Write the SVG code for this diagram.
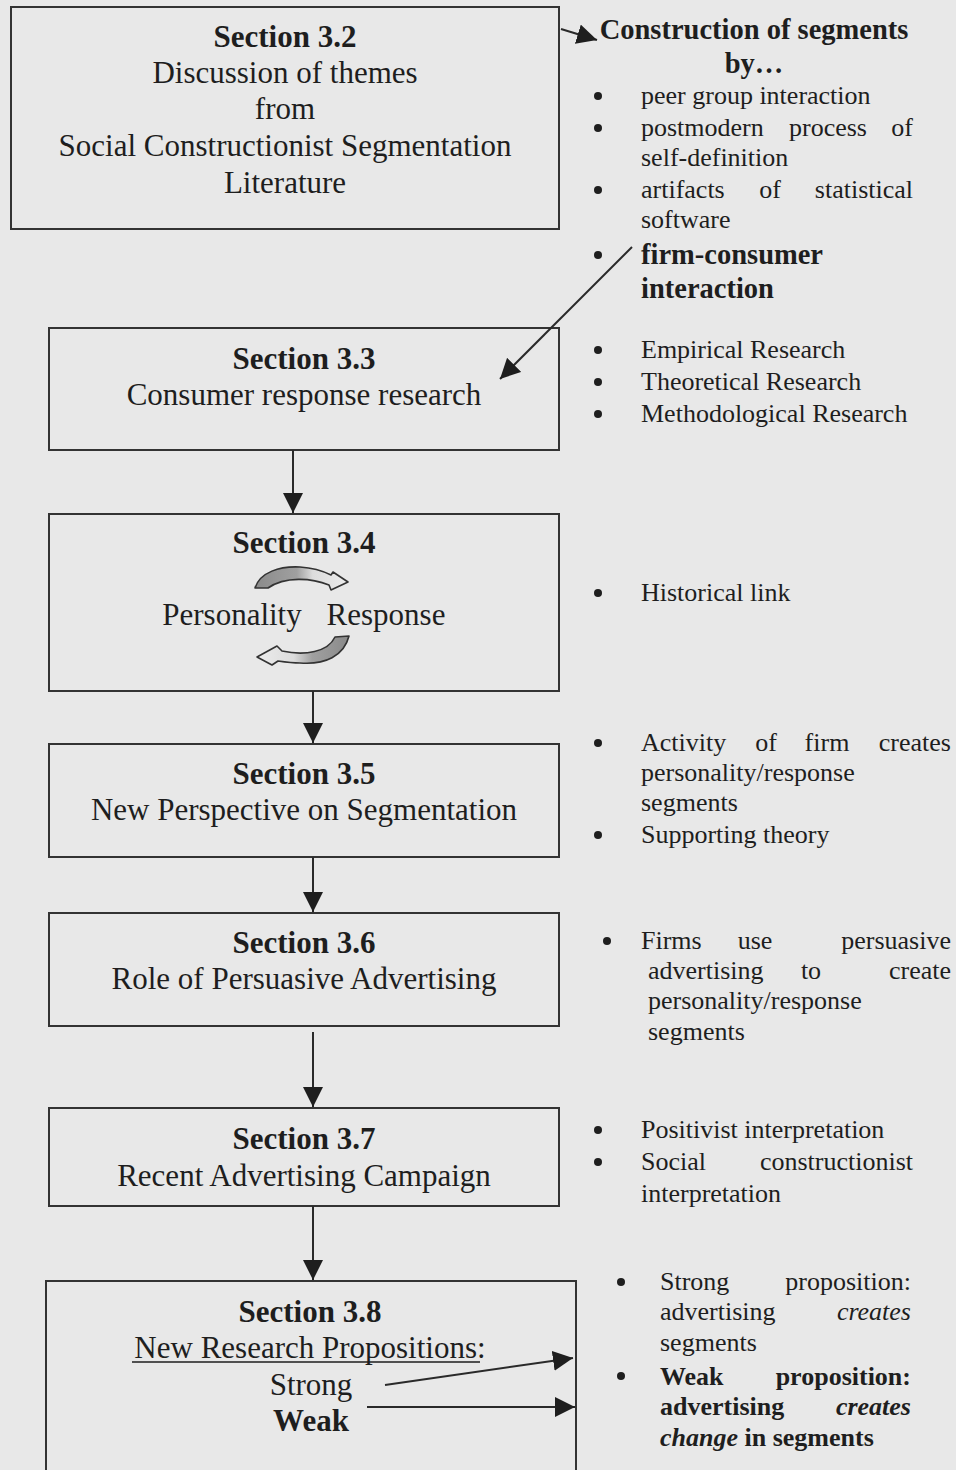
<svg xmlns="http://www.w3.org/2000/svg" width="956" height="1470" viewBox="0 0 956 1470">
  <style>
    text { font-family: "Liberation Serif", "Times New Roman", serif; fill: #1e1e1e; }
    .box { fill: none; stroke: #333; stroke-width: 2; }
    .bt { font-size: 31px; text-anchor: middle; }
    .bh { font-size: 31px; font-weight: bold; text-anchor: middle; }
    .rt { font-size: 26px; }
    .rb { font-size: 28.5px; font-weight: bold; }
    .wb { font-size: 26px; font-weight: bold; }
    .end { text-anchor: end; }
    .mid { text-anchor: middle; }
    .dot { fill: #1e1e1e; }
    .conn { stroke: #2a2a2a; stroke-width: 2; fill: none; marker-end: url(#ah); }
    .curl { stroke: #333; stroke-width: 1.6; stroke-linejoin: round; }
  </style>
  <defs>
    <marker id="ah" markerUnits="userSpaceOnUse" markerWidth="20" markerHeight="20" refX="20" refY="10" orient="auto">
      <path d="M0,0 L20,10 L0,20 Z" fill="#1e1e1e"/>
    </marker>
    <linearGradient id="curlL" x1="0" y1="0" x2="1" y2="0">
      <stop offset="0" stop-color="#8a8a8a"/>
      <stop offset="0.45" stop-color="#a0a0a0"/>
      <stop offset="0.62" stop-color="#dcdcdc"/>
      <stop offset="1" stop-color="#ececec"/>
    </linearGradient>
    <linearGradient id="curlR" x1="1" y1="0" x2="0" y2="0">
      <stop offset="0" stop-color="#8a8a8a"/>
      <stop offset="0.4" stop-color="#a0a0a0"/>
      <stop offset="0.6" stop-color="#dcdcdc"/>
      <stop offset="1" stop-color="#ececec"/>
    </linearGradient>
  </defs>

  <rect width="956" height="1470" fill="#e8e8e8"/>

  <!-- Section boxes -->
  <g id="s32">
    <rect class="box" x="11" y="7" width="548" height="222"/>
    <text class="bh" x="285" y="47">Section 3.2</text>
    <text class="bt" x="285" y="83">Discussion of themes</text>
    <text class="bt" x="285" y="119">from</text>
    <text class="bt" x="285" y="156">Social Constructionist Segmentation</text>
    <text class="bt" x="285" y="193">Literature</text>
  </g>

  <g id="s33">
    <rect class="box" x="49" y="328" width="510" height="122"/>
    <text class="bh" x="304" y="369">Section 3.3</text>
    <text class="bt" x="304" y="405">Consumer response research</text>
  </g>

  <g id="s34">
    <rect class="box" x="49" y="514" width="510" height="177"/>
    <text class="bh" x="304" y="553">Section 3.4</text>
    <!-- curved arrow, personality to response -->
    <path class="curl" fill="url(#curlL)" d="M255 588 C260 572 280 566 300 567 C315 568 325 572 331 575 L333 572 L348 582 L331 590 L329 585 C312 578 285 576 268 588 Z"/>
    <text class="bt" x="232" y="625">Personality</text>
    <text class="bt" x="386" y="625">Response</text>
    <!-- curved arrow, response back to personality -->
    <path class="curl" fill="url(#curlR)" d="M349 636 C344 656 325 665 300 663 C292 663 285 662 278 661 L272 665 L257 657 L277 646 L282 651 C305 656 328 652 335 637 Z"/>
  </g>

  <g id="s35">
    <rect class="box" x="49" y="744" width="510" height="113"/>
    <text class="bh" x="304" y="784">Section 3.5</text>
    <text class="bt" x="304" y="820">New Perspective on Segmentation</text>
  </g>

  <g id="s36">
    <rect class="box" x="49" y="913" width="510" height="113"/>
    <text class="bh" x="304" y="953">Section 3.6</text>
    <text class="bt" x="304" y="989">Role of Persuasive Advertising</text>
  </g>

  <g id="s37">
    <rect class="box" x="49" y="1108" width="510" height="98"/>
    <text class="bh" x="304" y="1149">Section 3.7</text>
    <text class="bt" x="304" y="1186">Recent Advertising Campaign</text>
  </g>

  <g id="s38">
    <rect class="box" x="46" y="1281" width="530" height="200"/>
    <text class="bh" x="310" y="1322">Section 3.8</text>
    <text class="bt" x="310" y="1358">New Research Propositions:</text>
    <line x1="132" y1="1362" x2="480" y2="1362" stroke="#1e1e1e" stroke-width="1.5"/>
    <text class="bt" x="311" y="1395">Strong</text>
    <text class="bh" x="311" y="1431">Weak</text>
  </g>

  <!-- Notes beside each section (justified lines set word by word) -->
  <g id="notes32">
    <text class="rb mid" x="754" y="39">Construction of segments</text>
    <text class="rb mid" x="754" y="73">by…</text>
    <circle class="dot" cx="598" cy="96" r="4"/>
    <text class="rt" x="641" y="104">peer group interaction</text>
    <circle class="dot" cx="598" cy="128" r="4"/>
    <text class="rt" x="641" y="136">postmodern</text>
    <text class="rt mid" x="828" y="136">process</text>
    <text class="rt end" x="913" y="136">of</text>
    <text class="rt" x="641" y="166">self-definition</text>
    <circle class="dot" cx="598" cy="190" r="4"/>
    <text class="rt" x="641" y="198">artifacts</text>
    <text class="rt mid" x="770" y="198">of</text>
    <text class="rt end" x="913" y="198">statistical</text>
    <text class="rt" x="641" y="228">software</text>
    <circle class="dot" cx="598" cy="255" r="4"/>
    <text class="rb" x="641" y="264">firm-consumer</text>
    <text class="rb" x="641" y="298">interaction</text>
  </g>

  <g id="notes33">
    <circle class="dot" cx="598" cy="350" r="4"/>
    <text class="rt" x="641" y="358">Empirical Research</text>
    <circle class="dot" cx="598" cy="382" r="4"/>
    <text class="rt" x="641" y="390">Theoretical Research</text>
    <circle class="dot" cx="598" cy="414" r="4"/>
    <text class="rt" x="641" y="422">Methodological Research</text>
  </g>

  <g id="notes34">
    <circle class="dot" cx="598" cy="593" r="4"/>
    <text class="rt" x="641" y="601">Historical link</text>
  </g>

  <g id="notes35">
    <circle class="dot" cx="598" cy="743" r="4"/>
    <text class="rt" x="641" y="751">Activity</text>
    <text class="rt mid" x="766" y="751">of</text>
    <text class="rt mid" x="827" y="751">firm</text>
    <text class="rt end" x="951" y="751">creates</text>
    <text class="rt" x="641" y="781">personality/response</text>
    <text class="rt" x="641" y="811">segments</text>
    <circle class="dot" cx="598" cy="835" r="4"/>
    <text class="rt" x="641" y="843">Supporting theory</text>
  </g>

  <g id="notes36">
    <circle class="dot" cx="607" cy="941" r="4"/>
    <text class="rt" x="641" y="949">Firms</text>
    <text class="rt mid" x="755" y="949">use</text>
    <text class="rt end" x="951" y="949">persuasive</text>
    <text class="rt" x="648" y="979">advertising</text>
    <text class="rt mid" x="811" y="979">to</text>
    <text class="rt end" x="951" y="979">create</text>
    <text class="rt" x="648" y="1009">personality/response</text>
    <text class="rt" x="648" y="1040">segments</text>
  </g>

  <g id="notes37">
    <circle class="dot" cx="598" cy="1130" r="4"/>
    <text class="rt" x="641" y="1138">Positivist interpretation</text>
    <circle class="dot" cx="598" cy="1162" r="4"/>
    <text class="rt" x="641" y="1170">Social</text>
    <text class="rt end" x="913" y="1170">constructionist</text>
    <text class="rt" x="641" y="1202">interpretation</text>
  </g>

  <g id="notes38">
    <circle class="dot" cx="621" cy="1282" r="4"/>
    <text class="rt" x="660" y="1290">Strong</text>
    <text class="rt end" x="911" y="1290">proposition:</text>
    <text class="rt" x="660" y="1320">advertising</text>
    <text class="rt end" x="911" y="1320" font-style="italic">creates</text>
    <text class="rt" x="660" y="1351">segments</text>
    <circle class="dot" cx="621" cy="1376" r="4"/>
    <text class="wb" x="660" y="1385">Weak</text>
    <text class="wb end" x="911" y="1385">proposition:</text>
    <text class="wb" x="660" y="1415">advertising</text>
    <text class="wb end" x="911" y="1415" font-style="italic">creates</text>
    <text class="wb" x="660" y="1446"><tspan font-style="italic">change</tspan> in segments</text>
  </g>

  <!-- Connectors -->
  <g id="connectors">
    <line class="conn" x1="561" y1="29" x2="597" y2="40"/>
    <line class="conn" x1="632" y1="247" x2="500" y2="379"/>
    <line class="conn" x1="293" y1="450" x2="293" y2="513"/>
    <line class="conn" x1="313" y1="691" x2="313" y2="743"/>
    <line class="conn" x1="313" y1="857" x2="313" y2="912"/>
    <line class="conn" x1="313" y1="1032" x2="313" y2="1107"/>
    <line class="conn" x1="313" y1="1206" x2="313" y2="1280"/>
    <line class="conn" x1="385" y1="1385" x2="573" y2="1358"/>
    <line class="conn" x1="367" y1="1407" x2="575" y2="1407"/>
  </g>
</svg>
